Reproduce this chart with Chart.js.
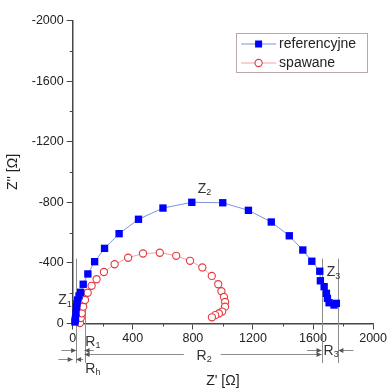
<!DOCTYPE html>
<html>
<head>
<meta charset="utf-8">
<script src="https://cdn.jsdelivr.net/npm/chart.js@4.4.0/dist/chart.umd.min.js"></script>
<style>
    html, body { margin: 0; padding: 0; background: #ffffff; }
    #wrap { width: 389px; height: 389px; }
</style>
</head>
<body>
<div id="wrap"><canvas id="nyquist" width="389" height="389"></canvas></div>
<script>
// Widmo impedancyjne (Nyquist) - probka referencyjna i spawana
// Z' i Z'' w omach, wartosci

const refX = [15, 17, 19, 22, 25, 28, 32, 42, 53, 70, 101, 146, 212, 309, 438, 601, 793, 999, 1170, 1322, 1442, 1532, 1592, 1645, 1649, 1674, 1689, 1696, 1707, 1740, 1755];
const refY = [-10, -22, -36, -69, -109, -130, -155, -182, -206, -259, -327, -408, -496, -593, -688, -762, -800, -797, -747, -670, -579, -485, -411, -345, -282, -243, -199, -166, -137, -122, -133];

const spawX = [48, 54, 60, 70, 82, 100, 126, 159, 208, 279, 369, 468, 580, 689, 781, 863, 926, 969, 990, 1007, 1015, 1014, 995, 973, 949, 927];
const spawY = [-3, -36, -67, -111, -155, -203, -249, -292, -340, -391, -434, -462, -467, -447, -414, -370, -314, -259, -213, -175, -142, -111, -79, -66, -55, -41];

const seriesNames = ['referencyjne', 'spawane'];
const xTicks = [0, 400, 800, 1200, 1600, 2000];
const yTicks = [-2000, -1600, -1200, -800, -400, 0];
const xMinor = [200, 600, 1000, 1400, 1800];
const yMinor = [-1800, -1400, -1000, -600, -200];

// linie pomocnicze R / Z (w jednostkach osi)
const guideLines = [
    { at: 23, from: -428, to: 261 },
    { at: 79, from: -190, to: 261 },
    { at: 1657, from: -428, to: 261 },
    { at: 1769, from: -428, to: 261 }
];
const arrows = [
    { y: 175, from: -75, to: 23 },
    { y: 175, from: 140, to: 79 },
    { y: 201, from: 740, to: 79 },
    { y: 201, from: 985, to: 1657 },
    { y: 175, from: 1560, to: 1657 },
    { y: 175, from: 1870, to: 1769 },
    { y: 234, from: -95, to: 0 },
    { y: 234, from: 70, to: 23 }
];
const symbols = [
    { x: -68, y: -155, main: 'Z', sub: '1' },
    { x: 861, y: -888, main: 'Z', sub: '2' },
    { x: 1720, y: -338, main: 'Z', sub: '3' },
    { x: 118, y: 122, main: 'R', sub: '1' },
    { x: 858, y: 214, main: 'R', sub: '2' },
    { x: 1704, y: 181, main: 'R', sub: '3' },
    { x: 118, y: 300, main: 'R', sub: 'h' }
];

const FONT = '"Liberation Sans", Arial, sans-serif';
const AXIS_COLOR = '#4a4444';

function toPoints(xs, ys) {
    return xs.map((v, i) => ({ x: v, y: ys[i] }));
}

const annotate = {
    id: 'annotate',
    beforeDatasetsDraw(chart) {
        const { ctx, scales: { x, y } } = chart;
        ctx.save();
        ctx.strokeStyle = '#8c8c8c';
        ctx.lineWidth = 1;
        guideLines.forEach(g => {
            const px = Math.round(x.getPixelForValue(g.at)) + 0.5;
            ctx.beginPath();
            ctx.moveTo(px, y.getPixelForValue(g.from));
            ctx.lineTo(px, y.getPixelForValue(g.to));
            ctx.stroke();
        });
        ctx.restore();
    },
    afterDraw(chart) {
        const { ctx, chartArea, scales: { x, y } } = chart;
        ctx.save();

        // podzialki pomocnicze
        ctx.strokeStyle = AXIS_COLOR;
        ctx.lineWidth = 1;
        xMinor.forEach(v => {
            const px = Math.round(x.getPixelForValue(v)) + 0.5;
            ctx.beginPath();
            ctx.moveTo(px, chartArea.bottom);
            ctx.lineTo(px, chartArea.bottom + 3);
            ctx.stroke();
        });
        yMinor.forEach(v => {
            const py = Math.round(y.getPixelForValue(v)) + 0.5;
            ctx.beginPath();
            ctx.moveTo(chartArea.left - 3, py);
            ctx.lineTo(chartArea.left, py);
            ctx.stroke();
        });

        // strzalki
        ctx.strokeStyle = '#8c8c8c';
        ctx.fillStyle = '#555555';
        arrows.forEach(a => {
            const py = Math.round(y.getPixelForValue(a.y)) + 0.5;
            const x1 = x.getPixelForValue(a.from);
            const x2 = x.getPixelForValue(a.to);
            const dir = x2 > x1 ? 1 : -1;
            ctx.beginPath();
            ctx.moveTo(x1, py);
            ctx.lineTo(x2, py);
            ctx.stroke();
            ctx.beginPath();
            ctx.moveTo(x2, py);
            ctx.lineTo(x2 - dir * 5, py - 2.5);
            ctx.lineTo(x2 - dir * 5, py + 2.5);
            ctx.closePath();
            ctx.fill();
        });

        // oznaczenia Z i R
        ctx.fillStyle = '#333333';
        ctx.textBaseline = 'middle';
        symbols.forEach(s => {
            const px = x.getPixelForValue(s.x);
            const py = y.getPixelForValue(s.y);
            ctx.font = '14px ' + FONT;
            ctx.textAlign = 'center';
            ctx.fillText(s.main, px, py);
            const w = ctx.measureText(s.main).width;
            ctx.font = '9px ' + FONT;
            ctx.textAlign = 'left';
            ctx.fillText(s.sub, px + w / 2, py + 4);
        });

        // legenda
        const boxR = chartArea.right - 6;
        const boxT = chartArea.top + 12.5;
        const boxW = 131, boxH = 39;
        const boxL = boxR - boxW;
        ctx.strokeStyle = '#bba6ad';
        ctx.lineWidth = 1;
        ctx.strokeRect(Math.round(boxL) + 0.5, Math.round(boxT) + 0.5, boxW, boxH);
        chart.data.datasets.forEach((ds, i) => {
            const rowY = boxT + 11 + i * 19;
            const sx1 = boxL + 5, sx2 = boxL + 40, mx = boxL + 22.5;
            ctx.strokeStyle = ds.borderColor;
            ctx.lineWidth = 1;
            ctx.beginPath();
            ctx.moveTo(sx1, rowY);
            ctx.lineTo(sx2, rowY);
            ctx.stroke();
            ctx.fillStyle = ds.pointBackgroundColor;
            ctx.strokeStyle = ds.pointBorderColor;
            ctx.lineWidth = ds.pointBorderWidth;
            ctx.beginPath();
            if (ds.pointStyle === 'rect') {
                ctx.rect(mx - 3.5, rowY - 3.5, 7, 7);
                ctx.fill();
            } else {
                ctx.arc(mx, rowY, ds.pointRadius, 0, Math.PI * 2);
                ctx.fill();
                ctx.stroke();
            }
            ctx.fillStyle = '#222222';
            ctx.font = '14px ' + FONT;
            ctx.textAlign = 'left';
            ctx.fillText(ds.label, boxL + 43, rowY);
        });

        ctx.restore();
    }
};

new Chart(document.getElementById('nyquist'), {
    type: 'scatter',
    data: {
        datasets: [
            {
                label: seriesNames[0],
                data: toPoints(refX, refY),
                showLine: true,
                borderColor: '#7b94e0',
                borderWidth: 1,
                pointStyle: 'rect',
                pointRadius: 5.2,
                pointBorderWidth: 0,
                pointBackgroundColor: '#0000ff',
                pointBorderColor: '#0000ff',
                clip: false,
                order: 1
            },
            {
                label: seriesNames[1],
                data: toPoints(spawX, spawY),
                showLine: true,
                borderColor: '#f0a2a6',
                borderWidth: 1,
                pointStyle: 'circle',
                pointRadius: 3.6,
                pointBorderWidth: 1.1,
                pointBackgroundColor: '#ffffff',
                pointBorderColor: '#e5383f',
                clip: false,
                order: 2
            }
        ]
    },
    options: {
        responsive: false,
        animation: false,
        layout: { padding: { top: 20.5, right: 15, left: 0, bottom: 0 } },
        plugins: {
            legend: { display: false },
            tooltip: { enabled: false }
        },
        scales: {
            x: {
                type: 'linear',
                min: 0,
                max: 2000,
                afterBuildTicks: axis => { axis.ticks = xTicks.map(v => ({ value: v })); },
                afterFit: axis => { axis.height = 65.5; },
                ticks: {
                    callback: v => String(v),
                    color: '#222222',
                    font: { family: FONT, size: 12.5 },
                    padding: 2,
                    maxRotation: 0
                },
                grid: { drawOnChartArea: false, tickLength: 6, color: AXIS_COLOR },
                border: { color: AXIS_COLOR, width: 1.5 },
                title: {
                    display: true,
                    text: "Z' [\u03A9]",
                    color: '#222222',
                    font: { family: FONT, size: 14 },
                    padding: { top: 0, bottom: -1 }
                }
            },
            y: {
                type: 'linear',
                min: -2000,
                max: 0,
                reverse: true,
                afterBuildTicks: axis => { axis.ticks = yTicks.map(v => ({ value: v })); },
                afterFit: axis => { axis.width = 72.7; },
                ticks: {
                    callback: v => String(v),
                    color: '#222222',
                    font: { family: FONT, size: 12.5 },
                    padding: 3
                },
                grid: { drawOnChartArea: false, tickLength: 6, color: AXIS_COLOR },
                border: { color: AXIS_COLOR, width: 1.5 },
                title: {
                    display: true,
                    text: "Z'' [\u03A9]",
                    color: '#222222',
                    font: { family: FONT, size: 14 },
                    padding: { top: 5, bottom: 0 }
                }
            }
        }
    },
    plugins: [annotate]
});
</script>
</body>
</html>
